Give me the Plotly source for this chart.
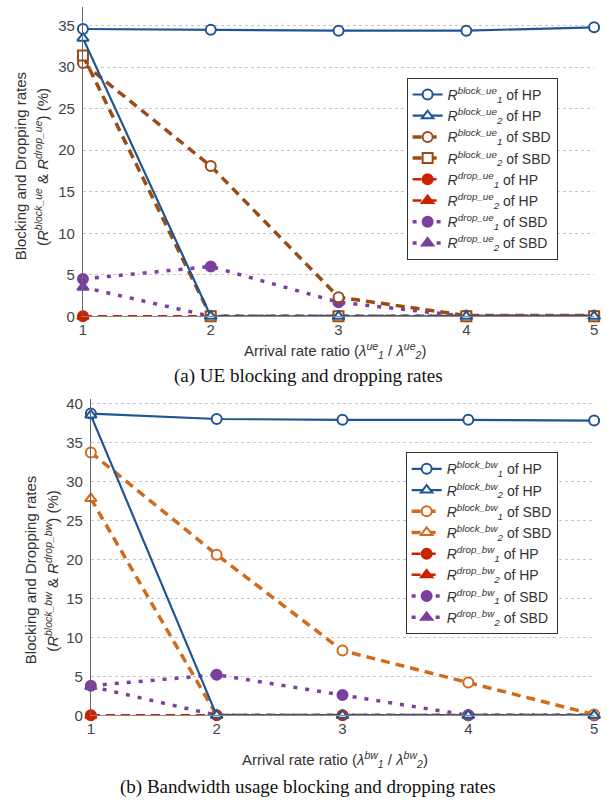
import plotly.graph_objects as go

W, H = 607, 811
x = [1, 2, 3, 4, 5]

# (a) UE blocking and dropping rates (%)
a_block1_hp = [34.6, 34.5, 34.4, 34.4, 34.8]
a_block2_hp = [33.5, 0, 0, 0, 0]
a_block1_sbd = [30.5, 18.1, 2.3, 0.1, 0.1]
a_block2_sbd = [31.4, 0, 0, 0, 0]
a_drop1_hp = [0, 0, 0, 0, 0]
a_drop2_hp = [0, 0, 0, 0, 0]
a_drop1_sbd = [4.5, 6.0, 1.7, 0, 0]
a_drop2_sbd = [3.5, 0, 0, 0, 0]

# (b) Bandwidth usage blocking and dropping rates (%)
b_block1_hp = [38.7, 38.0, 37.9, 37.9, 37.8]
b_block2_hp = [38.5, 0, 0, 0, 0]
b_block1_sbd = [33.7, 20.6, 8.3, 4.2, 0.1]
b_block2_sbd = [27.8, 0, 0, 0, 0]
b_drop1_hp = [0, 0, 0, 0, 0]
b_drop2_hp = [0, 0, 0, 0, 0]
b_drop1_sbd = [3.8, 5.2, 2.6, 0, 0]
b_drop2_sbd = [3.7, 0, 0, 0, 0]

yticks_a = [0, 5, 10, 15, 20, 25, 30, 35]
yticks_b = [0, 5, 10, 15, 20, 25, 30, 35, 40]

BLUE = "#1f5592"
BROWN = "#9b4c14"
ORANGE = "#d06a1c"
RED = "#cc2200"
PURPLE = "#7b3f9e"

DASH = "9px,6px"
DOT = "4px,8px"

def px(v):
    return v / W

def py(v):
    return 1 - v / H

def R(top, sub):
    return f"<i>R<sup>{top}</sup><sub>{sub}</sub></i> of "

fig = go.Figure()

def add(xa, ya, leg, y, name, color, dash, width, symbol, fill, rank, size=10):
    fig.add_trace(go.Scatter(
        x=x, y=y, name=name, xaxis=xa, yaxis=ya, legend=leg,
        mode="lines+markers", legendrank=rank, cliponaxis=False,
        line=dict(color=color, dash=dash, width=width),
        marker=dict(symbol=symbol, size=size,
                    color=(color if fill else "white"),
                    line=dict(color=color, width=2)),
    ))

def panel(xa, ya, leg, tag, d, col_sbd):
    traces = [
        (d[4], R(f"drop_{tag}", 1) + "HP", RED, DASH, 2.5, "circle", True, 5),
        (d[5], R(f"drop_{tag}", 2) + "HP", RED, DASH, 2.5, "triangle-up", True, 6),
        (d[6], R(f"drop_{tag}", 1) + "SBD", PURPLE, DOT, 3.5, "circle", True, 7),
        (d[7], R(f"drop_{tag}", 2) + "SBD", PURPLE, DOT, 3.5, "triangle-up", True, 8),
        (d[2], R(f"block_{tag}", 1) + "SBD", col_sbd, DASH, 3.5, "circle", False, 3),
        (d[3], R(f"block_{tag}", 2) + "SBD", col_sbd, DASH, 3.5,
         "square" if tag == "ue" else "triangle-up", False, 4),
        (d[0], R(f"block_{tag}", 1) + "HP", BLUE, "solid", 2.2, "circle", False, 1),
        (d[1], R(f"block_{tag}", 2) + "HP", BLUE, "solid", 2.2, "triangle-up", False, 2),
    ]
    for (y, name, c, dash, w, sym, fill, rank) in traces:
        add(xa, ya, leg, y, name, c, dash, w, sym, fill, rank)

panel("x", "y", "legend", "ue",
      [a_block1_hp, a_block2_hp, a_block1_sbd, a_block2_sbd,
       a_drop1_hp, a_drop2_hp, a_drop1_sbd, a_drop2_sbd], BROWN)
panel("x2", "y2", "legend2", "bw",
      [b_block1_hp, b_block2_hp, b_block1_sbd, b_block2_sbd,
       b_drop1_hp, b_drop2_hp, b_drop1_sbd, b_drop2_sbd], ORANGE)

tickfont = dict(family="Liberation Sans, Arial, sans-serif", size=15, color="#444")
xcommon = dict(range=[1, 5], tickvals=x, ticks="", showgrid=False, zeroline=False,
               showline=True, linecolor="#888", linewidth=1, tickfont=tickfont)
ycommon = dict(ticks="", showgrid=True, gridcolor="#c8c8c8", griddash="dot", gridwidth=1,
               zeroline=False, showline=True, linecolor="#666", linewidth=1,
               tickfont=tickfont, ticklabelstandoff=4)

ya_per = (317 - 22) / 35
a_top = 317 - 37.2 * ya_per
yb_per = (722 - 445) / 35
b_top = 722 - 40.6 * yb_per

fig.update_layout(
    width=W, height=H, margin=dict(l=0, r=0, t=0, b=0),
    paper_bgcolor="white", plot_bgcolor="white", showlegend=True,
    font=dict(family="Liberation Sans, Arial, sans-serif", color="#333"),
    xaxis=dict(domain=[px(80), px(598)], anchor="y", **xcommon),
    yaxis=dict(domain=[py(317), py(a_top)], anchor="x", range=[0, 37.2],
               tickvals=yticks_a, **ycommon),
    xaxis2=dict(domain=[px(88), px(598)], anchor="y2", **xcommon),
    yaxis2=dict(domain=[py(722), py(b_top)], anchor="x2", range=[0, 40.6],
                tickvals=yticks_b, **ycommon),
    legend=dict(x=px(408), y=py(75), xanchor="left", yanchor="top",
                bgcolor="white", bordercolor="#333", borderwidth=1,
                font=dict(size=14, color="#333"), tracegroupgap=0, itemwidth=30),
    legend2=dict(x=px(407), y=py(455), xanchor="left", yanchor="top",
                 bgcolor="white", bordercolor="#333", borderwidth=1,
                 font=dict(size=14, color="#333"), tracegroupgap=0, itemwidth=30),
)

ann_font = dict(family="Liberation Sans, Arial, sans-serif", size=15, color="#333")
serif = dict(family="Liberation Serif, Times New Roman, serif", size=19, color="#111")
anns = [
    dict(x=px(17), y=py(165), text="Blocking and Dropping rates", textangle=-90, font=ann_font),
    dict(x=px(38), y=py(165), text="(<i>R<sup>block_ue</sup></i> & <i>R<sup>drop_ue</sup></i>) (%)",
         textangle=-90, font=ann_font),
    dict(x=px(335), y=py(352), text="Arrival rate ratio (<i>λ<sup>ue</sup><sub>1</sub></i> / <i>λ<sup>ue</sup><sub>2</sub></i>)",
         font=ann_font),
    dict(x=px(309), y=py(378), text="(a) UE blocking and dropping rates", font=serif),
    dict(x=px(27), y=py(575), text="Blocking and Dropping rates", textangle=-90, font=ann_font),
    dict(x=px(48), y=py(575), text="(<i>R<sup>block_bw</sup></i> & <i>R<sup>drop_bw</sup></i>) (%)",
         textangle=-90, font=ann_font),
    dict(x=px(335), y=py(767), text="Arrival rate ratio (<i>λ<sup>bw</sup><sub>1</sub></i> / <i>λ<sup>bw</sup><sub>2</sub></i>)",
         font=ann_font),
    dict(x=px(308), y=py(795), text="(b) Bandwidth usage blocking and dropping rates", font=serif),
]
for a in anns:
    fig.add_annotation(xref="paper", yref="paper", showarrow=False,
                       xanchor="center", yanchor="middle", **a)

fig.write_html("out.html")
